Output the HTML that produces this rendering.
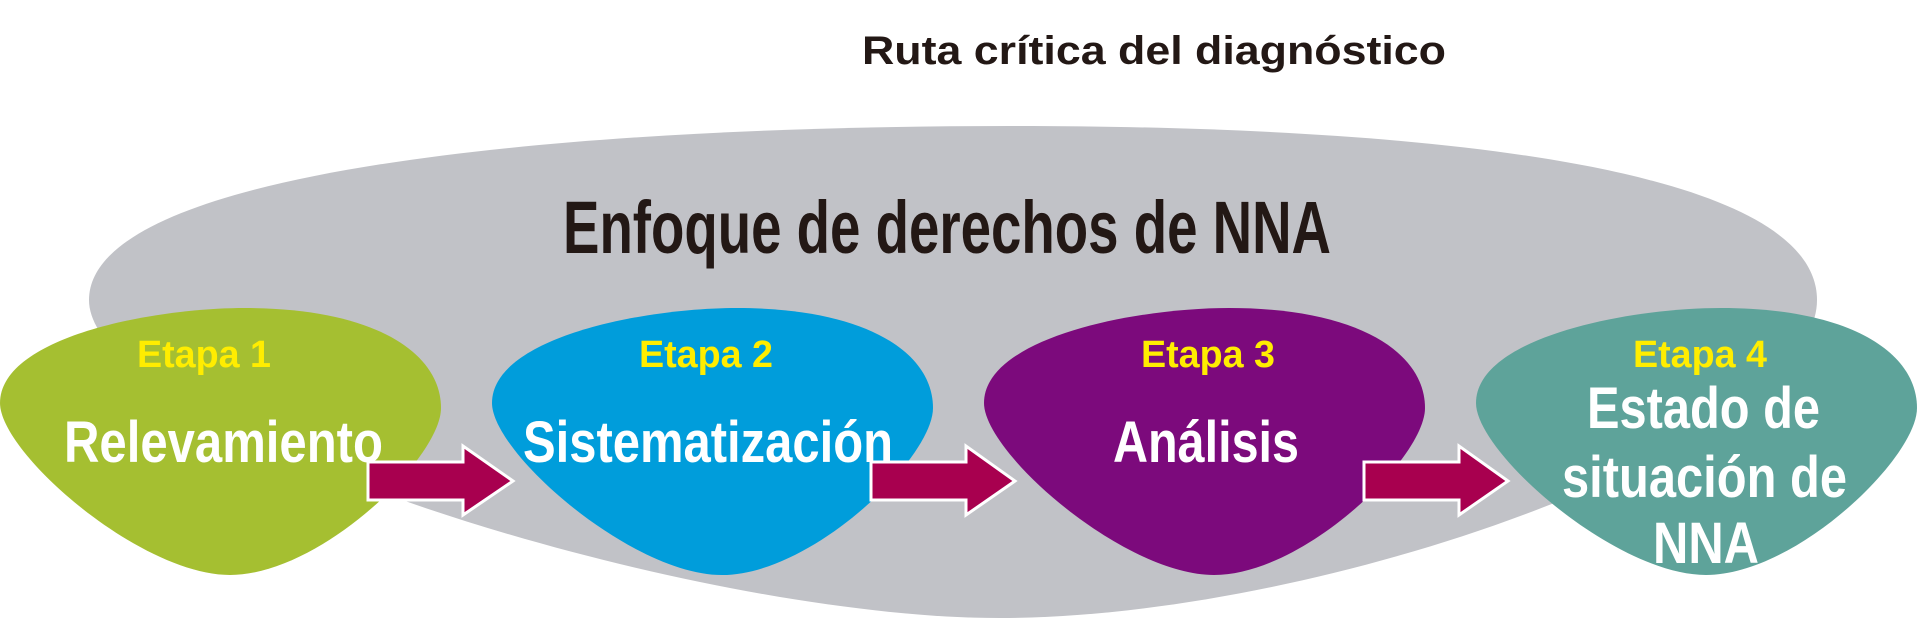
<!DOCTYPE html>
<html><head><meta charset="utf-8"><style>
html,body{margin:0;padding:0;background:#fff;}
svg{display:block;}
text{font-family:"Liberation Sans",sans-serif;font-weight:bold;}
</style></head><body>
<svg width="1918" height="624" viewBox="0 0 1918 624">
<text x="862" y="64" font-size="40" fill="#231815" textLength="584" lengthAdjust="spacingAndGlyphs">Ruta crítica del diagnóstico</text>
<path d="M89,300 C89,170 560,126 1010,126 C1500,126 1817,180 1817,300 C1817,440 1330,618 1000,618 C680,618 89,430 89,300 Z" fill="#c1c2c7"/>
<text x="563" y="253" font-size="74" fill="#231815" textLength="768" lengthAdjust="spacingAndGlyphs">Enfoque de derechos de NNA</text>
<g fill-rule="nonzero">
<path transform="translate(0,308)" d="M0,95 C0,30 150,0 245,0 C375,0 441,45 441,100 C441,150 320,267 230,267 C140,267 0,145 0,95 Z" fill="#a5bf31"/>
<path transform="translate(492,308)" d="M0,95 C0,30 150,0 245,0 C375,0 441,45 441,100 C441,150 320,267 230,267 C140,267 0,145 0,95 Z" fill="#009ddb"/>
<path transform="translate(984,308)" d="M0,95 C0,30 150,0 245,0 C375,0 441,45 441,100 C441,150 320,267 230,267 C140,267 0,145 0,95 Z" fill="#7c0a7c"/>
<path transform="translate(1476,308)" d="M0,95 C0,30 150,0 245,0 C375,0 441,45 441,100 C441,150 320,267 230,267 C140,267 0,145 0,95 Z" fill="#5ea39a"/>
</g>
<g fill="#a8004f" stroke="#fff" stroke-width="3">
<path d="M368,462 L463,462 L463,446 L513,481 L463,515 L463,500 L368,500 Z"/>
<path d="M871,462 L966,462 L966,446 L1015,481 L966,515 L966,500 L871,500 Z"/>
<path d="M1364,462 L1459,462 L1459,446 L1508,481 L1459,515 L1459,500 L1364,500 Z"/>
</g>
<g fill="#ffed00" font-size="38" text-anchor="middle">
<text x="204" y="367" textLength="134" lengthAdjust="spacingAndGlyphs">Etapa 1</text>
<text x="706" y="367" textLength="134" lengthAdjust="spacingAndGlyphs">Etapa 2</text>
<text x="1208" y="367" textLength="134" lengthAdjust="spacingAndGlyphs">Etapa 3</text>
<text x="1700" y="367" textLength="134" lengthAdjust="spacingAndGlyphs">Etapa 4</text>
</g>
<g fill="#fff" font-size="58">
<text x="64" y="462" textLength="319" lengthAdjust="spacingAndGlyphs">Relevamiento</text>
<text x="523" y="462" textLength="370" lengthAdjust="spacingAndGlyphs">Sistematización</text>
<text x="1113" y="462" textLength="186" lengthAdjust="spacingAndGlyphs">Análisis</text>
<text x="1587" y="428" textLength="233" lengthAdjust="spacingAndGlyphs">Estado de</text>
<text x="1562" y="497" textLength="285" lengthAdjust="spacingAndGlyphs">situación de</text>
<text x="1653" y="563" textLength="106" lengthAdjust="spacingAndGlyphs">NNA</text>
</g>
</svg>
</body></html>
